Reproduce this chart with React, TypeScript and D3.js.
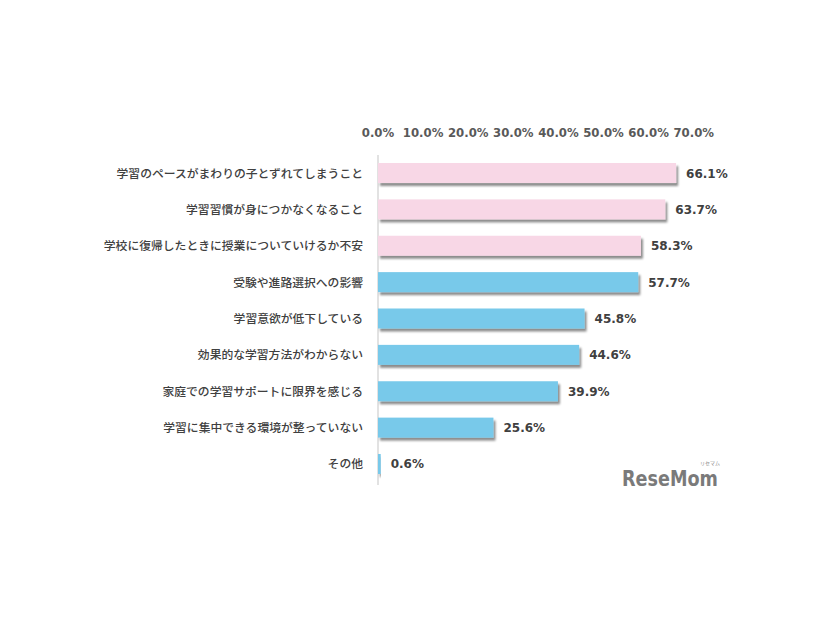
import React from "react";
import * as d3 from "d3";

const categories = [
  "学習のペースがまわりの子とずれてしまうこと",
  "学習習慣が身につかなくなること",
  "学校に復帰したときに授業についていけるか不安",
  "受験や進路選択への影響",
  "学習意欲が低下している",
  "効果的な学習方法がわからない",
  "家庭での学習サポートに限界を感じる",
  "学習に集中できる環境が整っていない",
  "その他",
];
const values = [66.1, 63.7, 58.3, 57.7, 45.8, 44.6, 39.9, 25.6, 0.6];
const highlight = [true, true, true, false, false, false, false, false, false];
const ticks = [0, 10, 20, 30, 40, 50, 60, 70];

const W = 826;
const H = 620;
const x0 = 378;
const x = d3.scaleLinear().domain([0, 70]).range([x0, x0 + 315.7]);
const y = d3
  .scaleBand<string>()
  .domain(categories)
  .range([155, 482])
  .paddingInner(0.45)
  .paddingOuter(0.22);

const FONT = "'Noto Sans CJK JP', 'Noto Sans', sans-serif";
const NUMFONT = "'DejaVu Sans', 'Noto Sans', sans-serif";

export default function App() {
  return (
    <svg
      width={W}
      height={H}
      style={{ position: "absolute", left: 0, top: 0, background: "#fff" }}
    >
      <defs>
        <filter id="sh" x="-5%" y="-30%" width="115%" height="190%">
          <feDropShadow dx="2" dy="3" stdDeviation="1.3" floodColor="#000" floodOpacity="0.45" />
        </filter>
      </defs>
      {ticks.map((t) => (
        <text
          key={t}
          x={x(t)}
          y={137}
          textAnchor="middle"
          fontFamily={NUMFONT}
          fontWeight="bold"
          fontSize={11.7}
          fill="#595959"
        >
          {d3.format(".1f")(t) + "%"}
        </text>
      ))}
      <line x1={x0} x2={x0} y1={155} y2={485} stroke="#d9d9d9" strokeWidth={1.5} />
      {categories.map((c, i) => {
        const yy = y(c)!;
        const bw = y.bandwidth();
        return (
          <g key={c}>
            <rect
              x={x0}
              y={yy}
              width={x(values[i]) - x0}
              height={bw}
              fill={highlight[i] ? "#F8D7E6" : "#78C9EA"}
              filter="url(#sh)"
            />
            <text
              x={x(values[i]) + 10}
              y={yy + bw / 2 + 4.5}
              fontFamily={NUMFONT}
              fontWeight="bold"
              fontSize={12}
              fill="#404040"
            >
              {values[i].toFixed(1) + "%"}
            </text>
            <text
              x={363}
              y={yy + bw / 2 + 4.5}
              textAnchor="end"
              fontFamily={FONT}
              fontWeight={500}
              fontSize={11.8}
              fill="#404040"
            >
              {c}
            </text>
          </g>
        );
      })}
      <text
        x={622}
        y={486}
        fontFamily="'DejaVu Sans', sans-serif"
        fontWeight="bold"
        fontSize={21}
        fill="#7a7a7a"
        textLength={96}
        lengthAdjust="spacingAndGlyphs"
      >
        ReseMom
      </text>
      <text x={700} y={465} fontFamily={FONT} fontSize={5} fill="#888">
        リセマム
      </text>
    </svg>
  );
}
